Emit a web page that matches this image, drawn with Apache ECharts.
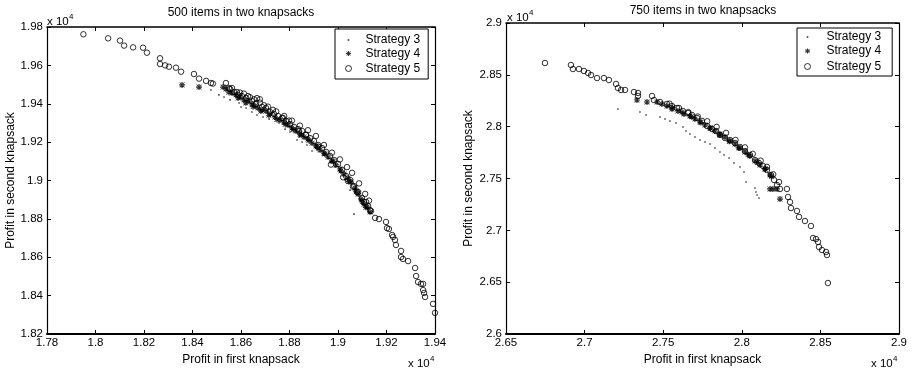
<!DOCTYPE html>
<html>
<head>
<meta charset="utf-8">
<script src="https://cdn.jsdelivr.net/npm/echarts@6/dist/echarts.min.js"></script>
<style>
  html, body { margin: 0; padding: 0; background: #fff; }
  #chart { width: 917px; height: 373px; }
</style>
</head>
<body>
<div id="chart"></div>
<script>
// 500 items: [profit in first knapsack, profit in second knapsack]
const left3 = [
  [18476,19472],[18509,19446],[18530,19435],[18555,19420],[18592,19404],[18600,19383],[18621,19378],
  [18645,19357],[18666,19341],[18691,19331],[18716,19320],[18757,19300],[18782,19268],[18802,19253],
  [18831,19211],[18839,19227],[18852,19201],[18872,19185],[18893,19154],[18913,19159],[18938,19133],
  [18967,19096],[18988,19070],[19008,19044],[19029,19003],[19050,18950],[19091,18898],[19066,18825]
]
const left4 = [
  [18357,19498],[18427,19487],[18526,19487],[18538,19477],[18563,19456],[18579,19446],[18596,19435],
  [18612,19420],[18629,19414],[18645,19399],[18658,19388],[18670,19378],[18687,19367],[18703,19362],
  [18720,19347],[18740,19331],[18761,19315],[18777,19305],[18794,19289],[18810,19274],[18827,19258],
  [18843,19242],[18860,19227],[18876,19216],[18893,19195],[18909,19180],[18926,19159],[18942,19143],
  [18959,19122],[18975,19102],[18992,19081],[19008,19060],[19025,19034],[19041,19013],[19054,18992],
  [19070,18961],[19083,18930],[19095,18904],[19107,18877],[19120,18862],[19132,18836],
  [18550,19460],[18588,19430],[18620,19405],[18650,19385],[18682,19362],[18715,19340],[18748,19318],
  [18782,19293],[18815,19266],[18848,19238],[18880,19208],[18914,19175],[18946,19138],[18980,19100],
  [19012,19050],[19045,18995],[19075,18945],[19100,18890],[19115,18860]
]
const left5 = [
  [17950,19762],[18052,19741],[18101,19729],[18118,19703],[18155,19694],[18196,19692],[18212,19666],
  [18266,19637],[18266,19607],[18287,19600],[18303,19593],[18332,19588],[18353,19567],[18406,19555],
  [18427,19531],[18456,19519],[18476,19508],[18484,19505],[18538,19508],[18550,19481],[18583,19461],
  [18612,19453],[18637,19434],[18666,19429],[18678,19423],[18695,19392],[18732,19368],[18773,19326],
  [18798,19312],[18839,19258],[18868,19239],[18918,19176],[18971,19083],[19021,19017],[19041,18998],
  [19062,18968],
  [18555,19477],[18571,19461],[18588,19446],[18604,19440],[18621,19430],[18645,19414],[18662,19399],
  [18687,19383],[18703,19378],[18720,19357],[18736,19347],[18753,19336],[18769,19326],[18786,19310],
  [18802,19294],[18819,19279],[18835,19268],[18852,19258],[18868,19237],[18885,19221],[18901,19206],
  [18918,19185],[18934,19169],[18951,19149],[18967,19128],[18984,19107],[19000,19086],[19017,19055],
  [19033,19023],[19050,19003],[19066,18971],[19083,18940],[19099,18909],[19107,18888],[19124,18867],
  [19132,18846],
  [18563,19482],[18596,19458],[18629,19440],[18654,19423],[18678,19406],[18711,19385],[18745,19360],
  [18778,19336],[18810,19312],[18843,19286],[18876,19262],[18909,19232],[18942,19185],[18975,19145],
  [19008,19110],[19037,19070],[19058,19040],[19087,18985],[19112,18930],[19128,18895],
  [19078,18940],[19116,18888],[19136,18841],[19153,18805],[19169,18799],[19198,18784],[19202,18752],
  [19210,18747],[19223,18716],[19227,18706],[19235,18690],[19239,18664],[19260,18633],[19260,18601],
  [19268,18591],[19289,18580],[19318,18544],[19322,18502],[19330,18471],[19342,18461],[19351,18461],
  [19351,18429],[19355,18414],[19359,18393],[19392,18357],[19400,18310]
]

// 750 items
const right3 = [
  [27212,28170],[27352,28142],[27391,28113],[27480,28093],[27511,28074],[27543,28055],[27581,28035],
  [27626,27997],[27645,27958],[27670,27929],[27702,27900],[27734,27871],[27766,27852],[27798,27833],
  [27829,27794],[27861,27756],[27887,27727],[27919,27698],[27950,27650],[27988,27611],[28014,27563],
  [28027,27466],[28084,27408],[28090,27370],[28097,27341],[28109,27312]
]
const right4 = [
  [27333,28257],[27397,28238],[27461,28238],[27492,28219],[27524,28199],[27556,28170],[27594,28151],
  [27632,28122],[27670,28103],[27702,28074],[27734,28045],[27766,28016],[27798,27987],[27829,27958],
  [27861,27929],[27893,27900],[27925,27862],[27957,27833],[27988,27794],[28020,27756],[28052,27717],
  [28084,27669],[28116,27630],[28147,27592],[28179,27534],[28179,27399],[28198,27399],[28224,27399],
  [28243,27302],
  [27560,28185],[27620,28140],[27680,28095],[27740,28040],[27800,27985],[27860,27920],[27920,27860],
  [27980,27795],[28040,27730],[28100,27655],[28150,27590],[28190,27520]
]
const right5 = [
  [26748,28614],[26913,28595],[26926,28556],[26964,28556],[26996,28537],[27022,28518],[27041,28498],
  [27079,28469],[27123,28469],[27155,28450],[27200,28412],[27212,28373],[27232,28354],[27257,28354],
  [27314,28334],[27340,28325],[27340,28296],[27429,28296],[27441,28257],[27480,28238],[27524,28219],
  [27556,28199],[27588,28180],[27626,28151],[27658,28132],[27683,28113],[27715,28084],[27747,28055],
  [27779,28006],[27810,27978],[27836,27958],[27861,27920],[27893,27891],[27925,27871],[27957,27842],
  [27988,27804],[28020,27765],[28052,27727],[28084,27678],[28109,27650],[28135,27621],[28160,27582],
  [28186,27534],[28205,27486],[28237,27466],[28224,27437],[28287,27399],[28243,27399],
  [27540,28222],[27600,28180],[27660,28140],[27720,28098],[27780,28052],[27840,27998],[27900,27940],
  [27960,27872],[28020,27800],[28070,27738],[28120,27672],[28160,27612],[28200,27540],
  [28294,27322],[28307,27273],[28313,27215],[28351,27187],[28364,27129],[28402,27090],[28440,27042],
  [28453,26926],[28472,26916],[28485,26888],[28491,26839],[28510,26810],[28536,26791],[28542,26762],
  [28548,26492]
]

const seriesNames = ['Strategy 3', 'Strategy 4', 'Strategy 5']
const titles = ['500 items in two knapsacks', '750 items in two knapsacks']
const xName = 'Profit in first knapsack'
const yName = 'Profit in second knapsack'

const FONT = '"Liberation Sans", Arial, Helvetica, sans-serif'
const star = 'path://M0 4h10v2H0z M4 0h2v10H4z M1.5 0.5L9.5 8.5 8.5 9.5 0.5 1.5z M8.5 0.5L9.5 1.5 1.5 9.5 0.5 8.5z'
// legend icons keep a 10x10 box so the marks stay small
const dotIcon = 'path://M0 0M10 10M4.2 4.2h1.6v1.6h-1.6z'
const starIcon = 'path://M0 0M10 10M2.5 4.5h5v1h-5z M4.5 2.5h1v5h-1z M3.25 2.75L7.25 6.75 6.75 7.25 2.75 3.25z M6.75 2.75L7.25 3.25 3.25 7.25 2.75 6.75z'
const ringIcon = 'path://M0 0M10 10M2 5A3 3 0 1 1 8 5A3 3 0 1 1 2 5Z'

const fmt = (v) => String(+(v / 1e4).toFixed(4))

function axesFor(grid, xr, yr, yGap) {
  const lbl = { color: '#000', fontFamily: FONT, fontSize: 11.5 }
  const tick = { show: true, inside: true, length: 4, lineStyle: { color: '#000' } }
  const x = {
    type: 'value', gridIndex: grid, min: xr[0], max: xr[1], interval: xr[2],
    name: xName, nameLocation: 'middle', nameGap: 17,
    nameTextStyle: { color: '#000', fontFamily: FONT, fontSize: 12 },
    axisLine: { show: true, onZero: false, lineStyle: { color: '#000', width: 2 } },
    axisTick: tick, axisLabel: Object.assign({ formatter: fmt, margin: 3 }, lbl),
    splitLine: { show: false }
  }
  const xTop = {
    type: 'value', gridIndex: grid, position: 'top', min: xr[0], max: xr[1], interval: xr[2],
    axisLine: { show: true, onZero: false, lineStyle: { color: '#000', width: 1.5 } },
    axisTick: tick, axisLabel: { show: false }, splitLine: { show: false }
  }
  const y = {
    type: 'value', gridIndex: grid, min: yr[0], max: yr[1], interval: yr[2],
    name: yName, nameLocation: 'middle', nameGap: yGap,
    nameTextStyle: { color: '#000', fontFamily: FONT, fontSize: 12 },
    axisLine: { show: true, onZero: false, lineStyle: { color: '#000', width: 1.2 } },
    axisTick: tick, axisLabel: Object.assign({ formatter: fmt, margin: 4 }, lbl),
    splitLine: { show: false }
  }
  const yRight = {
    type: 'value', gridIndex: grid, position: 'right', min: yr[0], max: yr[1], interval: yr[2],
    axisLine: { show: true, onZero: false, lineStyle: { color: '#000', width: 1.2 } },
    axisTick: tick, axisLabel: { show: false }, splitLine: { show: false }
  }
  return { x: [x, xTop], y: [y, yRight] }
}

const a0 = axesFor(0, [17800, 19400, 200], [18200, 19800, 200], 30)
const a1 = axesFor(1, [26500, 29000, 500], [26000, 29000, 500], 31)

function scatter(name, data, axis) {
  const base = { type: 'scatter', name, data, xAxisIndex: axis, yAxisIndex: axis, silent: true }
  if (name === 'Strategy 3') return Object.assign(base, { symbol: 'rect', symbolSize: 1.6, itemStyle: { color: '#222' } })
  if (name === 'Strategy 4') return Object.assign(base, { symbol: star, symbolSize: 6, itemStyle: { color: '#000' } })
  return Object.assign(base, {
    symbol: 'circle', symbolSize: 5.5,
    itemStyle: { color: 'none', borderColor: '#000', borderWidth: 1 }
  })
}

function legendAt(left, top, itemWidth, itemGap, padding) {
  return {
    orient: 'vertical', left, top, itemWidth, itemHeight: 10, itemGap, padding,
    borderColor: '#000', borderWidth: 1, backgroundColor: '#fff', selectedMode: false,
    textStyle: { color: '#000', fontFamily: FONT, fontSize: 12 },
    data: [
      { name: seriesNames[0], icon: dotIcon, itemStyle: { color: '#000', borderWidth: 0 } },
      { name: seriesNames[1], icon: starIcon, itemStyle: { color: '#000', borderWidth: 0 } },
      { name: seriesNames[2], icon: ringIcon, itemStyle: { color: 'none', borderColor: '#000', borderWidth: 1 } }
    ]
  }
}

function supLabel(x, y) {
  return [
    { type: 'text', x, y, style: { text: 'x 10', font: '11.5px ' + FONT, fill: '#000', verticalAlign: 'middle' } },
    { type: 'text', x: x + 22, y: y - 5, style: { text: '4', font: '8px ' + FONT, fill: '#000', verticalAlign: 'middle' } }
  ]
}

const option = {
  animation: false,
  backgroundColor: '#fff',
  grid: [
    { left: 47, top: 27, width: 388, height: 307 },
    { left: 506, top: 23, width: 393, height: 311 }
  ],
  xAxis: [...a0.x, ...a1.x],
  yAxis: [...a0.y, ...a1.y],
  legend: [
    legendAt(335, 29, 24, 1.5, [5, 8, 3, 6]),
    legendAt(797, 28, 28, 2, [3, 11, 2, 3])
  ],
  graphic: [
    { type: 'text', x: 241, y: 13, style: { text: titles[0], font: '12px ' + FONT, fill: '#000', align: 'center', verticalAlign: 'middle' } },
    { type: 'text', x: 703, y: 11, style: { text: titles[1], font: '12px ' + FONT, fill: '#000', align: 'center', verticalAlign: 'middle' } },
    ...supLabel(47, 21.5),
    ...supLabel(408, 363.5),
    ...supLabel(507, 18),
    ...supLabel(871, 363.5)
  ],
  series: [
    scatter(seriesNames[0], left3, 0),
    scatter(seriesNames[1], left4, 0),
    scatter(seriesNames[2], left5, 0),
    scatter(seriesNames[0], right3, 2),
    scatter(seriesNames[1], right4, 2),
    scatter(seriesNames[2], right5, 2)
  ]
}

const chart = echarts.init(document.getElementById('chart'), null, { renderer: 'canvas' })
chart.setOption(option)
</script>
</body>
</html>
